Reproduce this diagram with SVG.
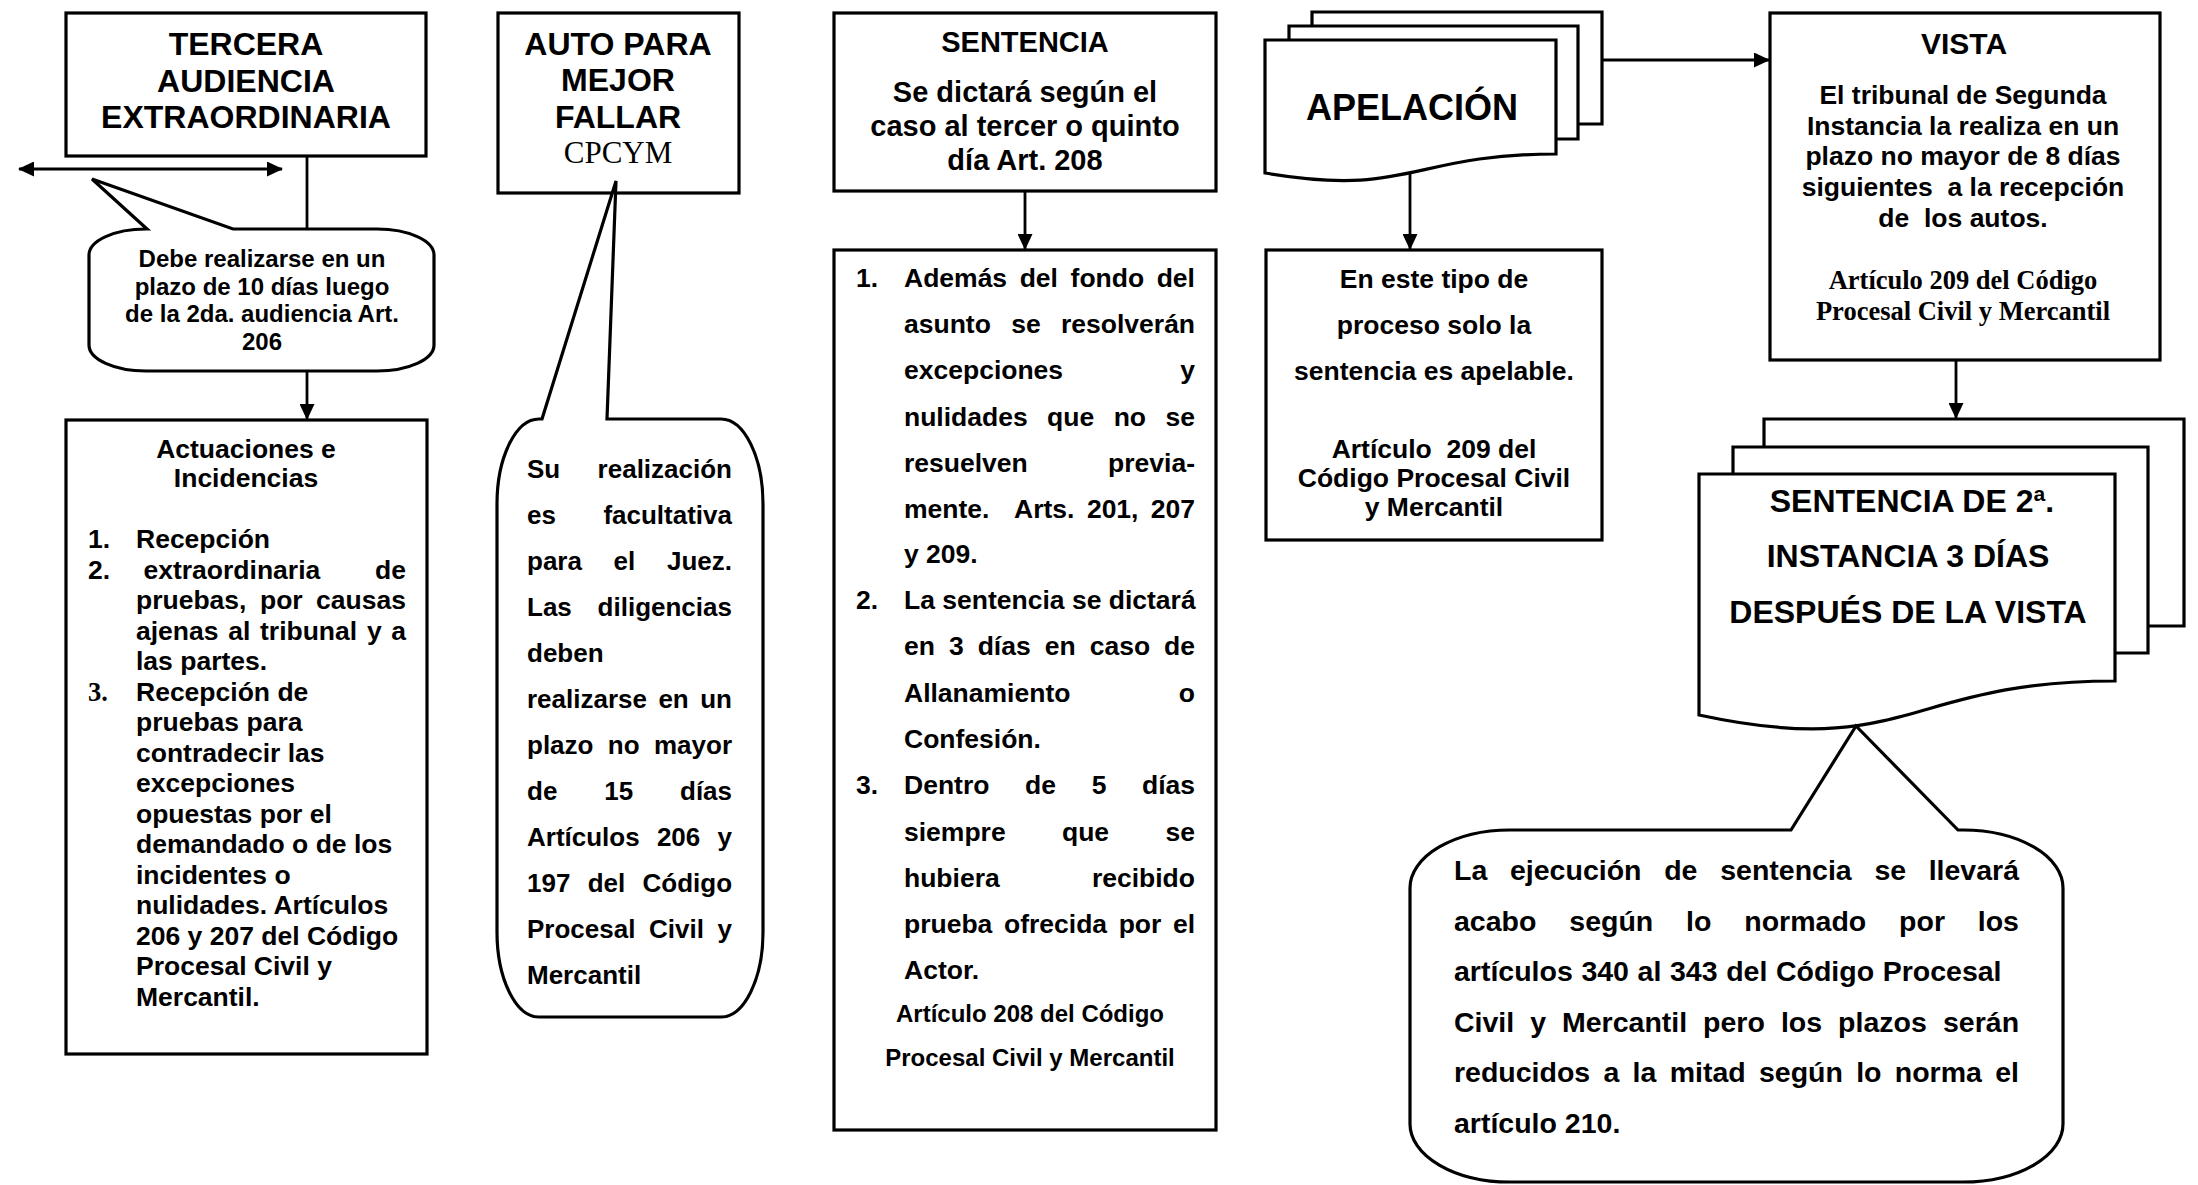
<svg xmlns="http://www.w3.org/2000/svg" width="2198" height="1185" viewBox="0 0 2198 1185">
<style>
.box{fill:#fff;stroke:#000;stroke-width:3.2}
.ln{stroke:#000;stroke-width:2.8;fill:none}
.t{font-family:"Liberation Sans",Arial,sans-serif;font-weight:bold;fill:#000}
.c{text-anchor:middle}
.sr{font-family:"Liberation Serif","Times New Roman",serif}
.f24{font-size:24px}.f26{font-size:26px}.f265{font-size:26.5px}.f285{font-size:28.5px}.f29{font-size:29px}.f30{font-size:30px}.f32{font-size:32px}.f36{font-size:36px}
</style>
<defs>
<marker id="ah" markerWidth="16" markerHeight="15" refX="15" refY="7.5" orient="auto-start-reverse" markerUnits="userSpaceOnUse"><path d="M0,0 L16,7.5 L0,15 Z" fill="#000"/></marker>
</defs>
<rect width="2198" height="1185" fill="#fff"/>

<g id="tercera-audiencia">
<rect class="box" x="66" y="13" width="360" height="143"/>
<text class="t c f32"><tspan x="246" y="55">TERCERA</tspan><tspan x="246" y="92">AUDIENCIA</tspan><tspan x="246" y="128">EXTRAORDINARIA</tspan></text>
</g>

<g id="nota-plazo">
<path class="box" d="M147,229 L92,179 L233,229 H377 A57,26 0 0 1 434,255 V345 A57,26 0 0 1 377,371 H146 A57,26 0 0 1 89,345 V255 A57,26 0 0 1 146,229 Z"/>
<text class="t c f24"><tspan x="262" y="267">Debe realizarse en un</tspan><tspan x="262" y="295">plazo de 10 días luego</tspan><tspan x="262" y="322">de la 2da. audiencia Art.</tspan><tspan x="262" y="350">206</tspan></text>
</g>

<g id="actuaciones">
<rect class="box" x="66" y="420" width="361" height="634"/>
<text class="t c f265"><tspan x="246" y="458">Actuaciones e</tspan><tspan x="246" y="487">Incidencias</tspan></text>
<text class="t f265">
<tspan x="88" y="548">1.</tspan><tspan x="136" y="548">Recepción</tspan>
<tspan x="88" y="578.5">2.</tspan><tspan x="143.5" y="578.5">extraordinaria</tspan><tspan x="375.1" y="578.5">de</tspan>
<tspan x="136" y="609">pruebas,</tspan><tspan x="260" y="609">por</tspan><tspan x="316.1" y="609">causas</tspan>
<tspan x="136" y="639.5">ajenas</tspan><tspan x="228.2" y="639.5">al</tspan><tspan x="260" y="639.5">tribunal</tspan><tspan x="366.9" y="639.5">y</tspan><tspan x="391.3" y="639.5">a</tspan>
<tspan x="136" y="670">las partes.</tspan>
<tspan x="136" y="700.5">Recepción de</tspan>
<tspan x="136" y="731">pruebas para</tspan>
<tspan x="136" y="761.5">contradecir las</tspan>
<tspan x="136" y="792">excepciones</tspan>
<tspan x="136" y="822.5">opuestas por el</tspan>
<tspan x="136" y="853">demandado o de los</tspan>
<tspan x="136" y="883.5">incidentes o</tspan>
<tspan x="136" y="914">nulidades. Artículos</tspan>
<tspan x="136" y="944.5">206 y 207 del Código</tspan>
<tspan x="136" y="975">Procesal Civil y</tspan>
<tspan x="136" y="1005.5">Mercantil.</tspan>
</text>
<text class="t sr f265" x="88" y="700.5">3.</text>
</g>

<g id="auto-mejor-fallar">
<rect class="box" x="498" y="13" width="241" height="180"/>
<text class="t c f32"><tspan x="618" y="55">AUTO PARA</tspan><tspan x="618" y="91">MEJOR</tspan><tspan x="618" y="128">FALLAR</tspan></text>
<text class="c sr" font-size="31" x="618" y="163">CPCYM</text>
</g>

<g id="nota-facultativa">
<path class="box" d="M542,419 L616,181 L607,419 H721 A42,85 0 0 1 763,504 V932 A42,85 0 0 1 721,1017 H539 A42,85 0 0 1 497,932 V504 A42,85 0 0 1 539,419 Z"/>
<text class="t f26">
<tspan x="527" y="478">Su</tspan><tspan x="597.6" y="478">realización</tspan>
<tspan x="527" y="524">es</tspan><tspan x="603.4" y="524">facultativa</tspan>
<tspan x="527" y="570">para</tspan><tspan x="613.6" y="570">el</tspan><tspan x="667" y="570">Juez.</tspan>
<tspan x="527" y="616">Las</tspan><tspan x="597.6" y="616">diligencias</tspan>
<tspan x="527" y="662">deben</tspan>
<tspan x="527" y="708">realizarse</tspan><tspan x="658.4" y="708">en</tspan><tspan x="700.2" y="708">un</tspan>
<tspan x="527" y="754">plazo</tspan><tspan x="607.8" y="754">no</tspan><tspan x="654" y="754">mayor</tspan>
<tspan x="527" y="800">de</tspan><tspan x="604.2" y="800">15</tspan><tspan x="680" y="800">días</tspan>
<tspan x="527" y="846">Artículos</tspan><tspan x="656.9" y="846">206</tspan><tspan x="717.5" y="846">y</tspan>
<tspan x="527" y="892">197</tspan><tspan x="587.7" y="892">del</tspan><tspan x="642.5" y="892">Código</tspan>
<tspan x="527" y="938">Procesal</tspan><tspan x="649" y="938">Civil</tspan><tspan x="717.5" y="938">y</tspan>
<tspan x="527" y="984">Mercantil</tspan>
</text>
</g>

<g id="sentencia">
<rect class="box" x="834" y="13" width="382" height="178"/>
<text class="t c f29"><tspan x="1025" y="52">SENTENCIA</tspan><tspan x="1025" y="102">Se dictará según el</tspan><tspan x="1025" y="136">caso al tercer o quinto</tspan><tspan x="1025" y="170">día Art. 208</tspan></text>
</g>

<g id="sentencia-detalle">
<rect class="box" x="834" y="250" width="382" height="880"/>
<text class="t f265">
<tspan x="856" y="287">1.</tspan>
<tspan x="904" y="287">Además</tspan><tspan x="1019.7" y="287">del</tspan><tspan x="1070.6" y="287">fondo</tspan><tspan x="1156.7" y="287">del</tspan>
<tspan x="904" y="333">asunto</tspan><tspan x="1011.2" y="333">se</tspan><tspan x="1061" y="333">resolverán</tspan>
<tspan x="904" y="379">excepciones</tspan><tspan x="1180.3" y="379">y</tspan>
<tspan x="904" y="426">nulidades</tspan><tspan x="1047.1" y="426">que</tspan><tspan x="1113.7" y="426">no</tspan><tspan x="1165.5" y="426">se</tspan>
<tspan x="904" y="472">resuelven</tspan><tspan x="1108.1" y="472">previa-</tspan>
<tspan x="904" y="518">mente.</tspan><tspan x="1014.1" y="518">Arts.</tspan><tspan x="1086.9" y="518">201,</tspan><tspan x="1150.8" y="518">207</tspan>
<tspan x="904" y="563">y 209.</tspan>
<tspan x="856" y="609">2.</tspan>
<tspan x="904" y="609">La sentencia se dictará</tspan>
<tspan x="904" y="655">en</tspan><tspan x="948.9" y="655">3</tspan><tspan x="977.7" y="655">días</tspan><tspan x="1044.7" y="655">en</tspan><tspan x="1089.7" y="655">caso</tspan><tspan x="1164.1" y="655">de</tspan>
<tspan x="904" y="702">Allanamiento</tspan><tspan x="1178.8" y="702">o</tspan>
<tspan x="904" y="748">Confesión.</tspan>
<tspan x="856" y="794">3.</tspan>
<tspan x="904" y="794">Dentro</tspan><tspan x="1025.1" y="794">de</tspan><tspan x="1091.7" y="794">5</tspan><tspan x="1142" y="794">días</tspan>
<tspan x="904" y="841">siempre</tspan><tspan x="1062" y="841">que</tspan><tspan x="1165.5" y="841">se</tspan>
<tspan x="904" y="887">hubiera</tspan><tspan x="1091.9" y="887">recibido</tspan>
<tspan x="904" y="933">prueba</tspan><tspan x="1004" y="933">ofrecida</tspan><tspan x="1118.7" y="933">por</tspan><tspan x="1172.9" y="933">el</tspan>
<tspan x="904" y="979">Actor.</tspan>
</text>
<text class="t c f24"><tspan x="1030" y="1022">Artículo 208 del Código</tspan><tspan x="1030" y="1066">Procesal Civil y Mercantil</tspan></text>
</g>

<g id="apelacion">
<path class="box" d="M1312,26 V12 H1602 V124 H1578"/>
<path class="box" d="M1289,40 V26 H1578 V139 H1556"/>
<path class="box" d="M1265,40 H1556 V154 C1410.5,154 1410.5,197.7 1265,173 Z"/>
<text class="t c f36" x="1412" y="120">APELACIÓN</text>
</g>

<g id="solo-sentencia-apelable">
<rect class="box" x="1266" y="250" width="336" height="290"/>
<text class="t c f265"><tspan x="1434" y="288">En este tipo de</tspan><tspan x="1434" y="334">proceso solo la</tspan><tspan x="1434" y="380">sentencia es apelable.</tspan></text>
<text class="t c f265" x="1434" y="458" xml:space="preserve">Artículo  209 del</text>
<text class="t c f265"><tspan x="1434" y="487">Código Procesal Civil</tspan><tspan x="1434" y="516">y Mercantil</tspan></text>
</g>

<g id="vista">
<rect class="box" x="1770" y="13" width="390" height="347"/>
<text class="t c f30" x="1964" y="54">VISTA</text>
<text class="t c f265"><tspan x="1963" y="104">El tribunal de Segunda</tspan><tspan x="1963" y="135">Instancia la realiza en un</tspan><tspan x="1963" y="165">plazo no mayor de 8 días</tspan></text>
<text class="t c f265" x="1963" y="196" xml:space="preserve">siguientes  a la recepción</text>
<text class="t c f265" x="1963" y="227" xml:space="preserve">de  los autos.</text>
<text class="t c sr f265"><tspan x="1963" y="289">Artículo 209 del Código</tspan><tspan x="1963" y="320">Procesal Civil y Mercantil</tspan></text>
</g>

<g id="sentencia-segunda-instancia">
<path class="box" d="M1764,447 V419 H2184 V626 H2148"/>
<path class="box" d="M1733,474 V447 H2148 V653 H2115"/>
<path class="box" d="M1699,474 H2115 V681 C1907,681 1907,760 1699,715 Z"/>
<text class="t c f32"><tspan x="1912" y="512">SENTENCIA DE 2ª.</tspan><tspan x="1908" y="567">INSTANCIA 3 DÍAS</tspan><tspan x="1908" y="623">DESPUÉS DE LA VISTA</tspan></text>
</g>

<g id="nota-ejecucion">
<path class="box" d="M1791,830 L1856,726 L1958,830 H1963 A100,58 0 0 1 2063,888 V1124 A100,58 0 0 1 1963,1182 H1510 A100,58 0 0 1 1410,1124 V888 A100,58 0 0 1 1510,830 Z"/>
<text class="t f285">
<tspan x="1454" y="880">La</tspan><tspan x="1510" y="880">ejecución</tspan><tspan x="1664.2" y="880">de</tspan><tspan x="1720.2" y="880">sentencia</tspan><tspan x="1874.4" y="880">se</tspan><tspan x="1928.7" y="880">llevará</tspan>
<tspan x="1454" y="930.5">acabo</tspan><tspan x="1569.3" y="930.5">según</tspan><tspan x="1686.1" y="930.5">lo</tspan><tspan x="1744.3" y="930.5">normado</tspan><tspan x="1899.1" y="930.5">por</tspan><tspan x="1977.8" y="930.5">los</tspan>
<tspan x="1454" y="981" word-spacing="0.7">artículos 340 al 343 del Código Procesal</tspan>
<tspan x="1454" y="1031.5">Civil</tspan><tspan x="1530.2" y="1031.5">y</tspan><tspan x="1562" y="1031.5">Mercantil</tspan><tspan x="1703.1" y="1031.5">pero</tspan><tspan x="1780.9" y="1031.5">los</tspan><tspan x="1838.1" y="1031.5">plazos</tspan><tspan x="1943" y="1031.5">serán</tspan>
<tspan x="1454" y="1082">reducidos</tspan><tspan x="1603.5" y="1082">a</tspan><tspan x="1632.6" y="1082">la</tspan><tspan x="1669.7" y="1082">mitad</tspan><tspan x="1759" y="1082">según</tspan><tspan x="1856.2" y="1082">lo</tspan><tspan x="1894.8" y="1082">norma</tspan><tspan x="1995.2" y="1082">el</tspan>
<tspan x="1454" y="1132.5">artículo 210.</tspan>
</text>
</g>

<g id="conectores">
<line class="ln" x1="19" y1="169" x2="282" y2="169" marker-start="url(#ah)" marker-end="url(#ah)"/>
<line class="ln" x1="307" y1="156" x2="307" y2="229"/>
<line class="ln" x1="307" y1="371" x2="307" y2="419" marker-end="url(#ah)"/>
<line class="ln" x1="1025" y1="191" x2="1025" y2="249" marker-end="url(#ah)"/>
<line class="ln" x1="1410" y1="173" x2="1410" y2="249" marker-end="url(#ah)"/>
<line class="ln" x1="1602" y1="60" x2="1769" y2="60" marker-end="url(#ah)"/>
<line class="ln" x1="1956" y1="360" x2="1956" y2="418" marker-end="url(#ah)"/>
</g>
</svg>
